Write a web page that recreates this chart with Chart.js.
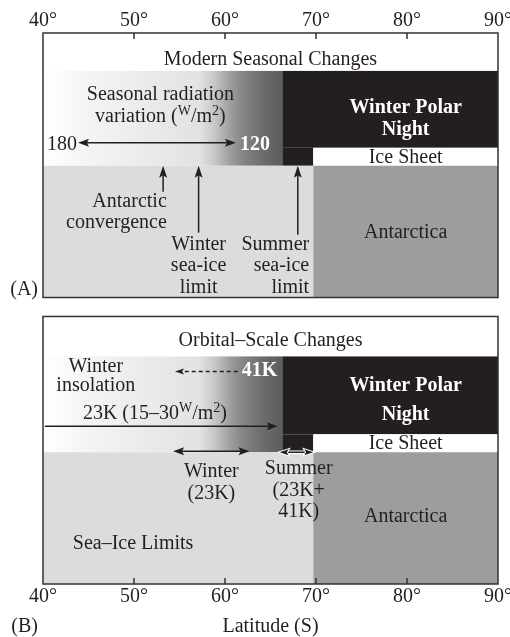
<!DOCTYPE html>
<html>
<head>
<meta charset="utf-8">
<script src="https://cdn.jsdelivr.net/npm/chart.js@4.4.1/dist/chart.umd.min.js"></script>
<style>
  html, body { margin: 0; padding: 0; background: #fff; overflow: hidden; }
  #wrap { width: 510px; height: 637px; overflow: hidden; }
</style>
</head>
<body>
<div id="wrap"><canvas id="diagram" width="540" height="637"></canvas></div>
<script>
// latitude ticks (degrees south)
const tickLats = [40, 50, 60, 70, 80, 90];
// zone boundaries
const polarNightLat = 66.3;
const coastLat = 69.7;
// radiation shading: latitude stops and grey level
const gradLats = [40, 45, 57.2, 58.8, 60.5, 62, 64, 66.3];
const gradGrey = [255, 244, 226, 200, 160, 132, 110, 92];
// panel A: frontal / sea-ice markers
const markerLats = [53.2, 57.1, 68.0];
const markerLabels = [["Antarctic", "convergence"], ["Winter", "sea-ice", "limit"], ["Summer", "sea-ice", "limit"]];
// panel A: seasonal radiation variation, 180 -> 120 W/m2
const radiationLats = [43.85, 61.2];
const radiationValues = ["180", "120"];
// panel B: orbital-scale arrows
const insolation41kLats = [61.4, 54.5];
const insolation23kLats = [40.2, 65.8];
const winterLimitLats = [54.3, 62.7];
const summerLimitLats = [66.0, 69.7];

const SERIF = '"Liberation Serif", "Times New Roman", serif';
const INK = "#231f20";
const NIGHT = "#231f20";
const OCEAN = "#dcdcdc";
const LAND = "#9d9d9d";

// vertical layout of the two panels (px inside plot area)
const panels = [
  { top: 0, title: 38, ice: 115, rad: 133, bottom: 265, name: "Modern Seasonal Changes" },
  { top: 284, title: 40, ice: 118, rad: 136, bottom: 268, name: "Orbital\u2013Scale Changes" }
];

const diagram = {
  id: "diagram",
  afterDraw(chart) {
    const ctx = chart.ctx;
    const xs = chart.scales.x, ys = chart.scales.y;
    const X = v => xs.getPixelForValue(v);
    const Y = v => ys.getPixelForValue(v);

    const font = (size, bold) => (bold ? "bold " : "") + size + "px " + SERIF;
    const text = (s, lat, y, align, opts = {}) => {
      ctx.font = font(opts.size || 20, opts.bold);
      ctx.fillStyle = opts.color || INK;
      ctx.textAlign = align || "center";
      ctx.textBaseline = "alphabetic";
      ctx.fillText(s, typeof lat === "number" ? X(lat) : lat.px, Y(y));
    };
    // runs: [string, superscript?]
    const runs = (parts, lat, y, color) => {
      ctx.textBaseline = "alphabetic";
      ctx.textAlign = "left";
      let w = 0;
      parts.forEach(([s, sup]) => { ctx.font = font(sup ? 14 : 20); w += ctx.measureText(s).width; });
      let x = X(lat) - w / 2;
      ctx.fillStyle = color || INK;
      parts.forEach(([s, sup]) => {
        ctx.font = font(sup ? 14 : 20);
        ctx.fillText(s, x, Y(y) - (sup ? 7 : 0));
        x += ctx.measureText(s).width;
      });
    };
    const head = (x, y, ang, color, len = 11, half = 4, halo) => {
      ctx.save();
      ctx.translate(x, y);
      ctx.rotate(ang);
      ctx.fillStyle = color || INK;
      ctx.beginPath();
      ctx.moveTo(0, 0);
      ctx.lineTo(-len, -half);
      ctx.lineTo(-len * 0.8, 0);
      ctx.lineTo(-len, half);
      ctx.closePath();
      if (halo) { ctx.strokeStyle = halo; ctx.lineWidth = 2; ctx.stroke(); }
      ctx.fill();
      ctx.restore();
    };
    const hArrow = (a, b, y, both, opts = {}) => {
      const x1 = X(a), x2 = X(b), py = Y(y);
      const dir = x2 > x1 ? 1 : -1;
      ctx.save();
      if (opts.halo) {
        ctx.strokeStyle = opts.halo;
        ctx.lineWidth = 3.5;
        ctx.beginPath();
        ctx.moveTo(x1 + dir * 8, py);
        ctx.lineTo(x2 - dir * 8, py);
        ctx.stroke();
      }
      ctx.strokeStyle = INK;
      ctx.lineWidth = 1.5;
      if (opts.dash) ctx.setLineDash(opts.dash);
      ctx.beginPath();
      ctx.moveTo(x1 + (both ? dir * 8 : 0), py);
      ctx.lineTo(x2 - dir * 8, py);
      ctx.stroke();
      ctx.restore();
      const len = opts.small ? 9 : 11, half = opts.small ? 3 : 4;
      head(x2, py, dir > 0 ? 0 : Math.PI, INK, len, half, opts.halo);
      if (both) head(x1, py, dir > 0 ? Math.PI : 0, INK, len, half, opts.halo);
    };

    panels.forEach((p, i) => {
      const t = p.top;
      const left = X(40), right = X(90);
      const xn = X(polarNightLat), xc = X(coastLat);
      // radiation shading
      const g = ctx.createLinearGradient(left, 0, xn, 0);
      gradLats.forEach((lat, k) => {
        const c = gradGrey[k];
        g.addColorStop((lat - 40) / (polarNightLat - 40), `rgb(${c},${c},${c})`);
      });
      ctx.fillStyle = g;
      ctx.fillRect(left, Y(t + p.title), xn - left, Y(t + p.rad) - Y(t + p.title));
      // polar night
      ctx.fillStyle = NIGHT;
      ctx.fillRect(xn, Y(t + p.title), right - xn, Y(t + p.ice) - Y(t + p.title));
      ctx.fillRect(xn, Y(t + p.ice), xc - xn, Y(t + p.rad) - Y(t + p.ice));
      // ice sheet band
      ctx.fillStyle = "#fff";
      ctx.fillRect(xc, Y(t + p.ice), right - xc, Y(t + p.rad) - Y(t + p.ice));
      // ocean / continent
      ctx.fillStyle = OCEAN;
      ctx.fillRect(left, Y(t + p.rad), xc - left, Y(t + p.bottom) - Y(t + p.rad));
      ctx.fillStyle = LAND;
      ctx.fillRect(xc, Y(t + p.rad), right - xc, Y(t + p.bottom) - Y(t + p.rad));
      // frame
      ctx.strokeStyle = "#333";
      ctx.lineWidth = 1.5;
      ctx.strokeRect(left, Y(t), right - left, Y(t + p.bottom) - Y(t));
      // inward ticks
      ctx.beginPath();
      tickLats.slice(1, -1).forEach(lat => {
        const edge = i === 0 ? Y(t) : Y(t + p.bottom);
        ctx.moveTo(X(lat), edge);
        ctx.lineTo(X(lat), edge + (i === 0 ? 6 : -6));
      });
      ctx.stroke();
      // common labels
      text(p.name, 65, t + (i === 0 ? 32 : 30));
      text("Winter Polar", 79.85, t + (i === 0 ? 80 : 75), "center", { bold: true, color: "#fff" });
      text("Night", 79.85, t + (i === 0 ? 102 : 104), "center", { bold: true, color: "#fff" });
      text("Ice Sheet", 79.85, t + (i === 0 ? 130 : 133));
      text("Antarctica", 79.85, t + (i === 0 ? 205 : 206));
    });

    // ---- panel A ----
    text("Seasonal radiation", 52.9, 67);
    runs([["variation ("], ["W", true], ["/m"], ["2", true], [")"]], 52.9, 89);
    hArrow(radiationLats[0], radiationLats[1], 110, true);
    text(radiationValues[0], { px: X(radiationLats[0]) - 1 }, 117, "right");
    text(radiationValues[1], { px: X(radiationLats[1]) + 4 }, 117, "left", { bold: true, color: "#fff" });
    const markerEnds = [159, 200, 202];
    markerLats.forEach((lat, k) => {
      const x = X(lat);
      ctx.strokeStyle = INK;
      ctx.lineWidth = 1.5;
      ctx.beginPath();
      ctx.moveTo(x, Y(133 + 8));
      ctx.lineTo(x, Y(markerEnds[k]));
      ctx.stroke();
      head(x, Y(133), -Math.PI / 2, INK, 12, 4);
    });
    text(markerLabels[0][0], 53.6, 174, "right");
    text(markerLabels[0][1], 53.6, 195, "right");
    markerLabels[1].forEach((s, k) => text(s, 57.1, 217 + k * 21.5, "center"));
    markerLabels[2].forEach((s, k) => text(s, 69.25, 217 + k * 21.5, "right"));
    text("(A)", { px: X(40) - 5 }, 262, "right");

    // ---- panel B ----
    const b = 284;
    text("Winter", 45.8, b + 56);
    text("insolation", 45.8, b + 75);
    hArrow(insolation41kLats[0], insolation41kLats[1], b + 55, false, { dash: [4, 3], small: true });
    text("41K", { px: X(insolation41kLats[0]) + 4 }, b + 60, "left", { bold: true, color: "#fff" });
    runs([["23K (15\u201330"], ["W", true], ["/m"], ["2", true], [")"]], 52.3, b + 103);
    hArrow(insolation23kLats[0], insolation23kLats[1], b + 110, false);
    hArrow(winterLimitLats[0], winterLimitLats[1], b + 135, true);
    hArrow(summerLimitLats[0], summerLimitLats[1], b + 136, true, { halo: "#fff", small: true });
    text("Winter", 58.5, b + 161);
    text("(23K)", 58.5, b + 183);
    text("Summer", 68.1, b + 158);
    text("(23K+", 68.1, b + 180);
    text("41K)", 68.1, b + 201);
    text("Sea\u2013Ice Limits", 49.9, b + 233);
    text("(B)", { px: X(40) - 5 }, 600, "right");
  }
};

const tickFont = { family: SERIF, size: 20 };
const latTicks = {
  stepSize: 10,
  color: INK,
  font: tickFont,
  maxRotation: 0,
  autoSkip: false,
  callback: v => v + "\u00b0"
};

new Chart(document.getElementById("diagram"), {
  type: "scatter",
  data: { datasets: [] },
  options: {
    responsive: false,
    animation: false,
    devicePixelRatio: 1,
    layout: { padding: { top: 9, left: 43, right: 42, bottom: 0 } },
    plugins: { legend: { display: false }, tooltip: { enabled: false } },
    scales: {
      x: {
        type: "linear", position: "top", min: tickLats[0], max: tickLats[tickLats.length - 1],
        grid: { display: false, drawTicks: false }, border: { display: false },
        ticks: { ...latTicks, padding: 0 }
      },
      x2: {
        type: "linear", position: "bottom", min: tickLats[0], max: tickLats[tickLats.length - 1],
        grid: { display: false, drawTicks: false }, border: { display: false },
        ticks: { ...latTicks, padding: 1 },
        title: { display: true, text: "Latitude (S)", color: INK,
                 font: { family: SERIF, size: 20, lineHeight: 1 }, padding: { top: 7, bottom: 0 } }
      },
      y: { type: "linear", min: 0, max: 552, reverse: true, display: false }
    }
  },
  plugins: [diagram]
});
</script>
</body>
</html>
